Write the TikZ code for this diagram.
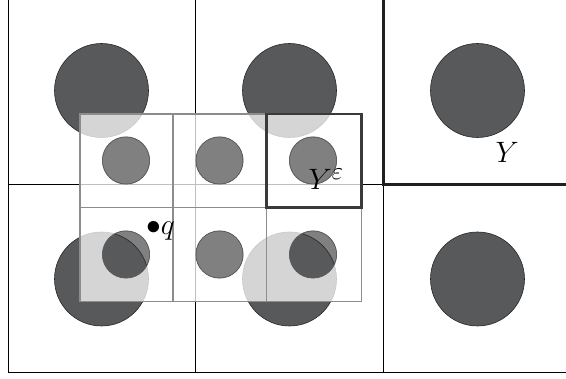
\documentclass[tikz,border=0pt]{standalone}
\usepackage{amsmath}
\definecolor{bigdisk}{HTML}{58595B}
\definecolor{smalldisk}{HTML}{808080}
\definecolor{smallgrid}{HTML}{8C8C8C}
\definecolor{thickline}{HTML}{231F20}
\definecolor{epsbox}{HTML}{3A3A3A}
\newcommand{\biglbl}[1]{\scalebox{1.185}{\Huge #1}}
\tikzset{
  biggrid/.style={draw=black, line width=0.9pt},
  bigdot/.style={fill=bigdisk, draw=black!85, line width=0.6pt},
  smalldot/.style={fill=smalldisk, draw=black!75, line width=0.6pt},
  finegrid/.style={draw=smallgrid, line width=1.2pt},
  veil/.style={fill=white, fill opacity=0.75, even odd rule},
  ybox/.style={draw=thickline, line width=3pt},
  yebox/.style={draw=epsbox, line width=2.6pt},
  lbl/.style={inner sep=0pt}
}
\begin{document}
\begin{tikzpicture}[x=1pt,y=-1pt]
\useasboundingbox (0,0) rectangle (566,379);
% big grid
\draw[biggrid] (8,0) -- (8,372.5);
\draw[biggrid] (195.3,0) -- (195.3,372.5);
\draw[biggrid] (383.3,184.5) -- (383.3,372.5);
\draw[biggrid] (8,184.5) -- (383.3,184.5);
\draw[biggrid] (8,372.5) -- (566,372.5);
% small disks (under big ones)
\foreach \x in {126,219.5,313}
  \foreach \y in {160.5,254.5}
    \path[smalldot] (\x,\y) circle (23.7);
% big disks
\foreach \x in {101.5,289.5,477.5}
  \foreach \y in {90.5,279}
    \path[bigdot] (\x,\y) circle (47);
% light veil over the fine cells, leaving the small disks clear
\path[veil] (80,114) rectangle (361.7,301.7)
  (126,160.5) circle (23.7) (219.5,160.5) circle (23.7) (313,160.5) circle (23.7)
  (126,254.5) circle (23.7) (219.5,254.5) circle (23.7) (313,254.5) circle (23.7);
% small disk outlines on top of the veil
\foreach \x in {126,219.5,313}
  \foreach \y in {160.5,254.5}
    \draw[black!70, line width=0.5pt] (\x,\y) circle (23.7);
% fine grid
\draw[finegrid] (80,114) rectangle (361.7,301.7);
\draw[finegrid] (173,114) -- (173,301.7);
\draw[finegrid] (266.7,114) -- (266.7,301.7);
\draw[finegrid] (80,207.8) -- (361.7,207.8);
% thick boxes
\draw[yebox] (266.7,114) rectangle (361.7,207.8);
\draw[ybox] (383.3,0) -- (383.3,184.5) -- (566,184.5);
% labels
\node[lbl, anchor=base west] (ye) at (308.5,190) {\biglbl{$Y^{\varepsilon}$}};
\node[lbl, anchor=base west] (y) at (495.5,163) {\biglbl{$Y$}};
\node[lbl, anchor=base west] (q) at (146,235) {\biglbl{$\bullet q$}};
\end{tikzpicture}
\end{document}
